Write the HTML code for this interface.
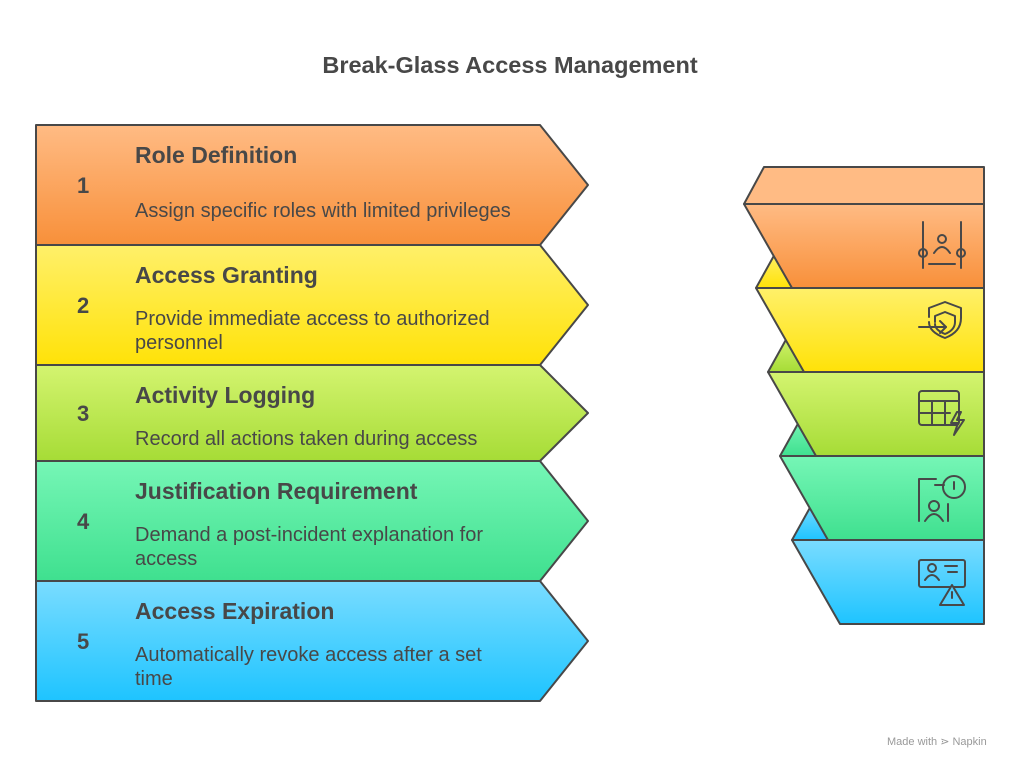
<!DOCTYPE html>
<html><head><meta charset="utf-8"><style>
body{margin:0;background:#fff;}
svg text{font-family:"Liberation Sans",sans-serif;fill:#484848;}
.t{font-size:23px;font-weight:bold;}
.d{font-size:20px;}
.n{font-size:22px;font-weight:bold;}
</style></head><body>
<svg width="1020" height="768" viewBox="0 0 1020 768" xmlns="http://www.w3.org/2000/svg">
<defs>
<linearGradient id="g1" x1="0" y1="0" x2="0" y2="1"><stop offset="0" stop-color="#ffbb84"/><stop offset="1" stop-color="#f8903a"/></linearGradient>
<linearGradient id="g2" x1="0" y1="0" x2="0" y2="1"><stop offset="0" stop-color="#fff06a"/><stop offset="1" stop-color="#ffe208"/></linearGradient>
<linearGradient id="g3" x1="0" y1="0" x2="0" y2="1"><stop offset="0" stop-color="#d4f470"/><stop offset="1" stop-color="#a6dc36"/></linearGradient>
<linearGradient id="g4" x1="0" y1="0" x2="0" y2="1"><stop offset="0" stop-color="#76f6b6"/><stop offset="1" stop-color="#3fe08f"/></linearGradient>
<linearGradient id="g5" x1="0" y1="0" x2="0" y2="1"><stop offset="0" stop-color="#7adcff"/><stop offset="1" stop-color="#1ec4ff"/></linearGradient>
</defs>
<text x="510" y="73" text-anchor="middle" style="font-size:23.5px;font-weight:bold">Break-Glass Access Management</text>
<g stroke="#484848" stroke-width="2" stroke-linejoin="round">
<polygon points="36,125 540,125 588,185 540,245 36,245" fill="url(#g1)"/>
<polygon points="36,245 540,245 588,305 540,365 36,365" fill="url(#g2)"/>
<polygon points="36,365 540,365 588,413 540,461 36,461" fill="url(#g3)"/>
<polygon points="36,461 540,461 588,521 540,581 36,581" fill="url(#g4)"/>
<polygon points="36,581 540,581 588,641 540,701 36,701" fill="url(#g5)"/>
</g>
<text class="n" x="77" y="193">1</text>
<text class="t" x="135" y="163">Role Definition</text>
<text class="d" x="135" y="217">Assign specific roles with limited privileges</text>
<text class="n" x="77" y="313">2</text>
<text class="t" x="135" y="283">Access Granting</text>
<text class="d" x="135" y="325">Provide immediate access to authorized</text>
<text class="d" x="135" y="349">personnel</text>
<text class="n" x="77" y="421">3</text>
<text class="t" x="135" y="403">Activity Logging</text>
<text class="d" x="135" y="445">Record all actions taken during access</text>
<text class="n" x="77" y="529">4</text>
<text class="t" x="135" y="499">Justification Requirement</text>
<text class="d" x="135" y="541">Demand a post-incident explanation for</text>
<text class="d" x="135" y="565">access</text>
<text class="n" x="77" y="649">5</text>
<text class="t" x="135" y="619">Access Expiration</text>
<text class="d" x="135" y="661">Automatically revoke access after a set</text>
<text class="d" x="135" y="685">time</text>

<g stroke="#484848" stroke-width="2" stroke-linejoin="round">
<polygon points="812,504 984,504 984,540 792,540" fill="url(#g5)"/>
<polygon points="800,420 984,420 984,456 780,456" fill="url(#g4)"/>
<polygon points="788,336 984,336 984,372 768,372" fill="url(#g3)"/>
<polygon points="776,252 984,252 984,288 756,288" fill="url(#g2)"/>
<polygon points="792,540 984,540 984,624 840,624" fill="url(#g5)"/>
<polygon points="780,456 984,456 984,540 828,540" fill="url(#g4)"/>
<polygon points="768,372 984,372 984,456 816,456" fill="url(#g3)"/>
<polygon points="756,288 984,288 984,372 804,372" fill="url(#g2)"/>
<polygon points="744,204 984,204 984,288 792,288" fill="url(#g1)"/>
<polygon points="764,167 984,167 984,204 744,204" fill="#ffbb84"/>
</g>
<g stroke="#484848" stroke-width="2" fill="none" stroke-linecap="round" stroke-linejoin="round">
<line x1="923" y1="222" x2="923" y2="268"/><line x1="961" y1="222" x2="961" y2="268"/>
<circle cx="923" cy="253" r="4"/><circle cx="961" cy="253" r="4"/>
<circle cx="942" cy="239" r="4"/><path d="M934 253 q8-12 16 0"/><line x1="929" y1="264" x2="955" y2="264"/>
<path d="M929 317 v-9 l16-6 l16 6 v10 q0 14-16 20 q-16-6-16-16"/><path d="M935 322 v-6 l10-4 l10 4 v6 q0 8-10 12 q-10-4-10-10"/>
<line x1="919" y1="327" x2="946" y2="327"/><path d="M940 321 l6 6 -6 6"/>
<rect x="919" y="391" width="40" height="34" rx="3"/><line x1="919" y1="401" x2="959" y2="401"/><line x1="919" y1="413" x2="950" y2="413"/>
<line x1="932" y1="401" x2="932" y2="425"/><line x1="945" y1="401" x2="945" y2="425"/>
<path d="M957 412 l-6 11 h7 l-4 12 l10-15 h-7 l4-8z"/>
<path d="M936 479 h-17 v42"/><line x1="935" y1="485" x2="944" y2="485"/><line x1="948" y1="504" x2="948" y2="521"/>
<circle cx="954" cy="487" r="11"/><line x1="954" y1="482" x2="954" y2="489"/>
<circle cx="934" cy="506" r="5"/><path d="M925 521 q9-14 18 0"/>
<rect x="919" y="560" width="46" height="27" rx="2"/><circle cx="932" cy="568" r="4"/><path d="M925 580 q7-10 14 0"/>
<line x1="945" y1="566" x2="957" y2="566"/><line x1="948" y1="572" x2="957" y2="572"/>
<path d="M952 585 l-12 20 h24z" fill="#4ed0ff"/><line x1="952" y1="592" x2="952" y2="598"/>
</g>
<text x="887" y="745" style="font-size:11px;fill:#999">Made with ⋗ Napkin</text>
</svg>
</body></html>
